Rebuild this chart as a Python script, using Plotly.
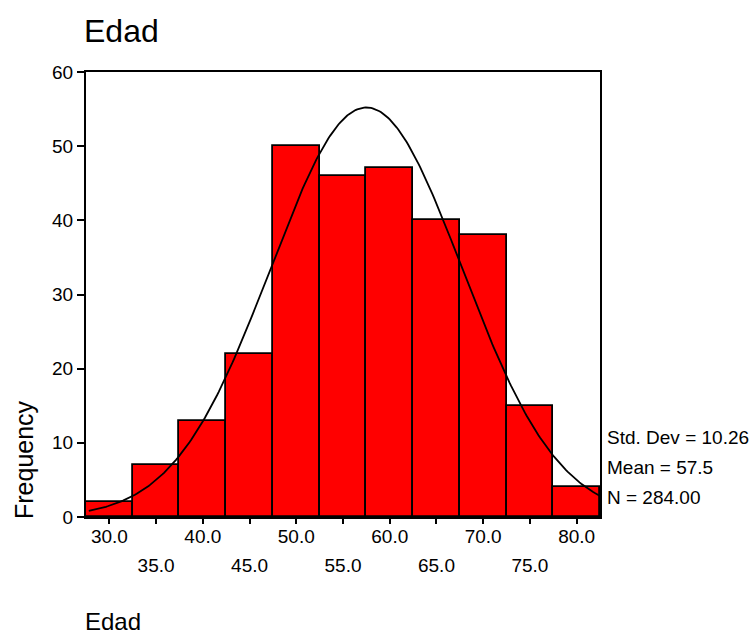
import numpy as np
import plotly.graph_objects as go

# Age histogram (bin width 5) with fitted normal curve
bin_centers = [30, 35, 40, 45, 50, 55, 60, 65, 70, 75, 80]
counts = [2, 7, 13, 22, 50, 46, 47, 40, 38, 15, 4]
bin_width = 5.0

mean_age = 57.5
std_dev = 10.26
n_total = 284

upper_ticks = [30, 40, 50, 60, 70, 80]
lower_ticks = [35, 45, 55, 65, 75]
y_ticks = [0, 10, 20, 30, 40, 50, 60]

FONT = "Arial, Liberation Sans, sans-serif"

# Normal density scaled to counts per bin
xs = np.linspace(27.8, 82.5, 300)
ys = n_total * bin_width / (std_dev * np.sqrt(2 * np.pi)) * np.exp(-0.5 * ((xs - mean_age) / std_dev) ** 2)

fig = go.Figure()
fig.add_trace(go.Bar(
    x=bin_centers, y=counts, width=bin_width,
    marker=dict(color="#FF0000", line=dict(color="black", width=1.8)),
    showlegend=False, hoverinfo="skip",
))
fig.add_trace(go.Scatter(
    x=xs, y=ys, mode="lines",
    line=dict(color="black", width=1.8),
    showlegend=False, hoverinfo="skip",
))
# Invisible trace on the second x axis so its labels render
fig.add_trace(go.Scatter(x=[27.5, 82.5], y=[0, 0], mode="markers",
                         marker=dict(opacity=0), xaxis="x2",
                         showlegend=False, hoverinfo="skip"))

fig.update_layout(
    width=756, height=638,
    margin=dict(l=86, r=156, t=72, b=121),
    paper_bgcolor="white", plot_bgcolor="white",
    font=dict(family=FONT, size=19, color="black"),
    bargap=0,
    title=dict(text="Edad", x=84 / 756, xanchor="left", y=1 - 31 / 638, yanchor="middle",
               font=dict(size=32, family=FONT)),
    xaxis=dict(
        range=[27.5, 82.5], tickmode="array",
        tickvals=upper_ticks + lower_ticks,
        ticktext=[f"{v:.1f}" for v in upper_ticks] + [""] * len(lower_ticks),
        ticks="outside", ticklen=5, tickwidth=1.5, tickcolor="black",
        showline=True, linecolor="black", linewidth=2, mirror=True,
        showgrid=False, zeroline=False, ticklabelstandoff=-4,
        tickfont=dict(size=19),
    ),
    xaxis2=dict(
        range=[27.5, 82.5], overlaying="x", anchor="y", side="bottom",
        tickmode="array", tickvals=lower_ticks,
        ticktext=[f"{v:.1f}" for v in lower_ticks],
        ticks="", showline=False, showgrid=False, zeroline=False,
        ticklabelstandoff=35, tickfont=dict(size=19),
    ),
    yaxis=dict(
        range=[0, 60], tickmode="array", tickvals=y_ticks,
        ticks="outside", ticklen=7, tickwidth=1.5, tickcolor="black",
        showline=True, linecolor="black", linewidth=2, mirror=True,
        showgrid=False, zeroline=False, tickfont=dict(size=19),
    ),
)

# Axis titles and summary statistics
fig.add_annotation(text="Frequency", xref="paper", yref="paper",
                   x=-62 / 514, y=(517 - 460) / 445, textangle=-90,
                   showarrow=False, font=dict(size=25, family=FONT),
                   xanchor="center", yanchor="middle")
fig.add_annotation(text="Edad", xref="paper", yref="paper",
                   x=-3 / 514, y=-(637 - 517) / 445, showarrow=False,
                   font=dict(size=24, family=FONT), xanchor="left", yanchor="bottom")
stats = [f"Std. Dev = {std_dev:.2f}", f"Mean = {mean_age:.1f}", f"N = {n_total:.2f}"]
for text, py in zip(stats, [437, 467, 497]):
    fig.add_annotation(text=text, xref="paper", yref="paper",
                       x=1 + 5 / 514, y=(517 - py) / 445, showarrow=False,
                       font=dict(size=19, family=FONT), xanchor="left", yanchor="middle")

fig.write_html("out.html")
